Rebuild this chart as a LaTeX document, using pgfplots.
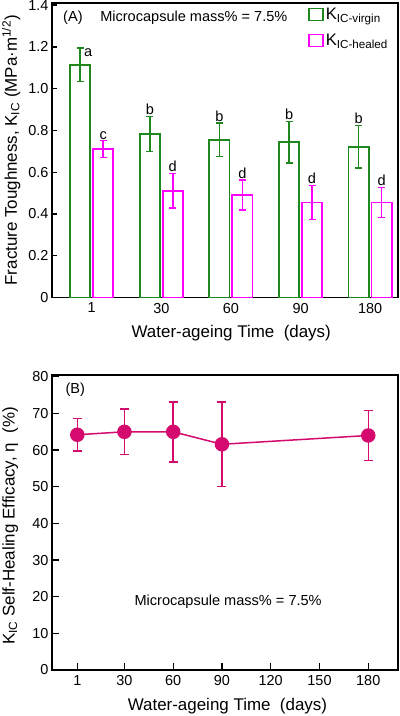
\documentclass[border=0pt]{standalone}
\usepackage{pgfplots}
\pgfplotsset{compat=1.18}
\usepackage{pgfplotstable}
\usepackage{fontspec}
\setmainfont{Liberation Sans}
\definecolor{vgreen}{RGB}{30,135,30}
\definecolor{hmag}{RGB}{255,0,255}
\definecolor{lred}{RGB}{212,10,110}

\newcommand{\tfont}{\fontsize{14.5}{16}\selectfont}
\newcommand{\lfont}{\fontsize{17}{19}\selectfont}
\newcommand{\afont}{\fontsize{14.6}{16}\selectfont}
\newcommand{\gfont}{\fontsize{16.7}{18}\selectfont}

\pgfplotstableread{
x y e
0 1.115 0.080
1 0.783 0.083
2 0.755 0.080
3 0.743 0.100
4 0.722 0.102
}\virgin
\pgfplotstableread{
x y e
0 0.711 0.040
1 0.511 0.083
2 0.491 0.072
3 0.455 0.082
4 0.455 0.072
}\healed
\pgfplotstableread{
x y e
1 64.2 4.5
30 65.0 6.2
60 65.0 8.2
90 61.6 11.5
180 64.0 6.8
}\eff

\begin{document}
\begin{tikzpicture}
\path[use as bounding box] (0bp,0bp) rectangle (400bp,-716bp);

\begin{axis}[
  at={(52bp,-297.5bp)}, anchor=south west,
  scale only axis, width=346bp, height=294.5bp,
  xmin=-0.57, xmax=4.4, ymin=0, ymax=1.41,
  xtick={0,1,2,3,4},
  xticklabels={{\tfont 1},{\tfont 30},{\tfont 60},{\tfont 90},{\tfont 180}},
  major x tick style={draw=none},
  ytick={0,0.2,0.4,0.6,0.8,1.0,1.2,1.4},
  yticklabels={{\tfont 0},{\tfont 0.2},{\tfont 0.4},{\tfont 0.6},{\tfont 0.8},{\tfont 1.0},{\tfont 1.2},{\tfont\raisebox{-2.5bp}{1.4}}},
  tick align=inside, tick pos=left,
  major tick length=5bp,
  axis line style={line width=1.5bp},
  every tick/.style={line width=1.3bp,black},
  /pgf/number format/assume math mode=true,
  xticklabel style={yshift=-2bp},
  xlabel={\lfont Water-ageing Time\ \ (days)},
  ylabel={\lfont Fracture Toughness, K\textsubscript{IC} (MPa·m\textsuperscript{1/2})},
  xlabel style={at={(axis description cs:0.518,0)}, anchor=center, yshift=-36bp},
  ylabel style={at={(axis description cs:-0.118,0.5)}, anchor=center},
  legend style={at={(axis description cs:0.74,0.99)}, anchor=north west, draw=none, fill=none,
    row sep=9bp, inner sep=0pt, /tikz/every even column/.append style={column sep=5bp}},
  legend cell align=left,
]
\addplot[ybar, bar width=0.29, bar shift=0pt, draw=vgreen, fill=white, line width=1.8bp,
  legend image code/.code={\draw[vgreen, line width=1.6bp, fill=white] (0bp,-6bp) rectangle (14bp,6bp);},
  error bars/.cd, y dir=both, y explicit,
  error bar style={line width=1.5bp, vgreen},
  error mark options={rotate=90, mark size=3.5bp, line width=1.5bp, vgreen}]
  table[x expr=\thisrow{x}-0.165, y=y, y error=e] {\virgin};
\addlegendentry{\gfont K\textsubscript{IC-virgin}}
\addplot[ybar, bar width=0.29, bar shift=0pt, draw=hmag, fill=white, line width=1.8bp,
  legend image code/.code={\draw[hmag, line width=1.6bp, fill=white] (0bp,-6bp) rectangle (14bp,6bp);},
  error bars/.cd, y dir=both, y explicit,
  error bar style={line width=1.5bp, hmag},
  error mark options={rotate=90, mark size=3.5bp, line width=1.5bp, hmag}]
  table[x expr=\thisrow{x}+0.165, y=y, y error=e] {\healed};
\addlegendentry{\gfont K\textsubscript{IC-healed}}

\begin{scope}[every node/.style={font=\afont, inner sep=1bp}]
\node at (axis cs:-0.05,1.17) {a};
\node[anchor=south] at (axis cs:0.165,0.752) {c};
\node[anchor=south] at (axis cs:0.835,0.868) {b};
\node[anchor=south] at (axis cs:1.165,0.596) {d};
\node[anchor=south] at (axis cs:1.835,0.837) {b};
\node[anchor=south] at (axis cs:2.165,0.565) {d};
\node[anchor=south] at (axis cs:2.835,0.845) {b};
\node[anchor=south] at (axis cs:3.165,0.539) {d};
\node[anchor=south] at (axis cs:3.835,0.826) {b};
\node[anchor=south] at (axis cs:4.165,0.529) {d};
\node[anchor=west] at (axis description cs:0.029,0.95) {(A)};
\node[anchor=west] at (axis description cs:0.136,0.95) {Microcapsule mass\% = 7.5\%};
\end{scope}
\end{axis}

\begin{axis}[
  at={(52bp,-670bp)}, anchor=south west,
  scale only axis, width=346bp, height=295bp,
  xmin=-14.56, xmax=198.3, ymin=0, ymax=80.5,
  xtick={1,30,60,90,120,150,180},
  xticklabels={{\tfont 1},{\tfont 30},{\tfont 60},{\tfont 90},{\tfont 120},{\tfont 150},{\tfont 180}},
  ytick={0,10,20,30,40,50,60,70,80},
  yticklabels={{\tfont 0},{\tfont 10},{\tfont 20},{\tfont 30},{\tfont 40},{\tfont 50},{\tfont 60},{\tfont 70},{\tfont 80}},
  tick align=inside, tick pos=left,
  major tick length=7bp,
  axis line style={line width=1.5bp},
  every tick/.style={line width=1.3bp,black},
  /pgf/number format/assume math mode=true,
  xticklabel style={yshift=-2bp},
  xlabel={\lfont Water-ageing Time\ \ (days)},
  ylabel={\lfont K\textsubscript{IC} Self-Healing Efficacy, η\ \ (\%)},
  xlabel style={at={(axis description cs:0.507,0)}, anchor=center, yshift=-36.5bp},
  ylabel style={at={(axis description cs:-0.121,0.488)}, anchor=center},
]
\addplot[lred, line width=1.5bp, mark=*, mark size=6.5bp, mark options={fill=lred, draw=lred},
  error bars/.cd, y dir=both, y explicit,
  error bar style={line width=1.5bp, lred},
  error mark options={rotate=90, mark size=4.5bp, line width=1.5bp, lred}]
  table[x=x, y=y, y error=e] {\eff};
\node[anchor=west, font=\afont] at (axis description cs:0.029,0.949) {(B)};
\node[font=\afont] at (axis description cs:0.509,0.2315) {Microcapsule mass\% = 7.5\%};
\end{axis}
\end{tikzpicture}
\end{document}
